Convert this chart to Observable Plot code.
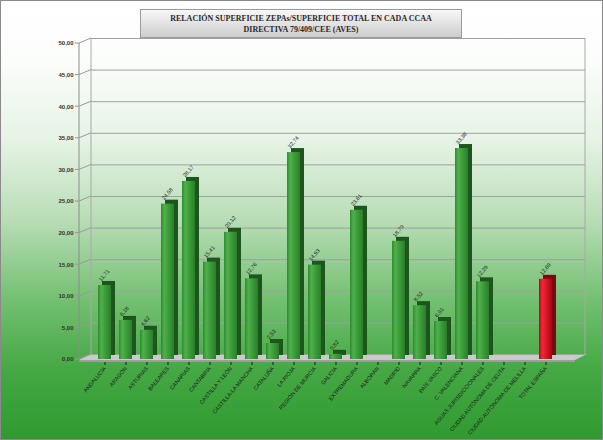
<!DOCTYPE html>
<html>
<head>
<meta charset="utf-8">
<script src="https://cdn.jsdelivr.net/npm/d3@7"></script>
<script src="https://cdn.jsdelivr.net/npm/@observablehq/plot@0.6"></script>
<style>
  html, body { margin: 0; padding: 0; }
  #chart {
    position: relative; width: 603px; height: 440px; overflow: hidden;
    background: linear-gradient(to bottom, #ffffff 0%, #fbfdfb 14%, #e6f3e5 32%, #b8ddb6 50%, #74c072 68%, #45a844 84%, #2f9a2f 100%);
    box-shadow: inset 0 0 0 1px #8a8a8a;
  }
  #title {
    position: absolute; left: 140px; top: 9px; width: 322px; height: 29px; box-sizing: border-box;
    border: 1px solid #9a9a9a; background: linear-gradient(to bottom, #f8f8f8, #cdcdcd);
    font: bold 8px "Liberation Serif", "DejaVu Serif", serif; color: #2a2a2a; text-align: center;
    line-height: 11px; padding-top: 3px; z-index: 2;
  }
  #chart svg { position: absolute; left: 0; top: 0; }
</style>
</head>
<body>
<div id="chart">
  <div id="title">RELACIÓN SUPERFICIE ZEPAs/SUPERFICIE TOTAL EN CADA CCAA<br>DIRECTIVA 79/409/CEE (AVES)</div>
</div>
<script>
// Regions (x categories)
const regions = [
  "ANDALUCÍA", "ARAGÓN", "ASTURIAS", "BALEARES", "CANARIAS", "CANTABRIA",
  "CASTILLA Y LEÓN", "CASTILLA-LA MANCHA", "CATALUÑA", "LA RIOJA", "REGIÓN DE MURCIA",
  "GALICIA", "EXTREMADURA", "ALBORÁN", "MADRID", "NAVARRA", "PAÍS VASCO",
  "C. VALENCIANA", "AGUAS JURISDICCIONALES", "CIUDAD AUTÓNOMA DE CEUTA",
  "CIUDAD AUTÓNOMA DE MELILLA", "TOTAL ESPAÑA"
];
// ZEPA surface as % of total surface
const zepaPct = [
  11.71, 6.18, 4.62, 24.58, 28.17, 15.41,
  20.12, 12.76, 2.53, 32.74, 14.93,
  0.82, 23.61, 0.00, 18.70, 8.52, 6.01,
  33.38, 12.29, 0.00,
  0.00, 12.69
];
// Y axis ticks
const yTicks = [0, 5, 10, 15, 20, 25, 30, 35, 40, 45, 50];

const totalName = regions[regions.length - 1];
const data = regions.map((name, i) => ({name, value: zepaPct[i]}));
const fmt = v => d3.format(".2f")(v).replace(".", ",");
const depth = 4;

const GREEN = "#3a9a38", GREEN_SIDE = "#1c561c";
const RED = "#d01424", RED_SIDE = "#7a0a12";

const plot = Plot.plot({
  width: 603, height: 440,
  marginLeft: 85, marginRight: 24, marginTop: 43, marginBottom: 81,
  style: {background: "transparent", fontFamily: "'Liberation Sans', Arial, sans-serif"},
  x: {type: "band", domain: regions, range: [85, 565], paddingInner: 0.4, paddingOuter: 0.2, label: null},
  y: {domain: [0, 50], label: null},
  marks: [
    Plot.ruleY(yTicks, {dx: 6, dy: -5, stroke: "#a0a0a0", strokeWidth: 1}),
    Plot.axisY(yTicks, {tickSize: 0, tickPadding: 12, tickFormat: fmt, fontSize: 6, fontWeight: "bold", color: "#333"}),
    Plot.axisX({tickRotate: -50, fontSize: 5.5, tickSize: 3, tickPadding: 2, dy: 3, color: "#1a1a1a"}),
    // bar depth (side + top)
    Plot.barY(data.filter(d => d.name !== totalName), {x: "name", y: "value", fill: GREEN_SIDE, dx: depth, dy: -depth}),
    Plot.barY(data.filter(d => d.name === totalName), {x: "name", y: "value", fill: RED_SIDE, dx: depth, dy: -depth}),
    // bar front faces
    Plot.barY(data.filter(d => d.name !== totalName), {x: "name", y: "value", fill: GREEN}),
    Plot.barY(data.filter(d => d.name === totalName), {x: "name", y: "value", fill: RED}),
    // value labels
    Plot.text(data.filter(d => d.value > 0), {
      x: "name", y: "value", text: d => fmt(d.value), rotate: -50, textAnchor: "start",
      dx: -5, dy: -5, fontSize: 5.5, fill: "#222"
    })
  ]
});

document.getElementById("chart").appendChild(plot);

// Gradients for the bar fronts and 3D floor / walls drawn from the y scale
const svg = d3.select(plot);
const ys = plot.scale("y");
const y0 = ys.apply(0), yTop = ys.apply(50);

const defs = svg.insert("defs", ":first-child");
function hgrad(id, stops) {
  const g = defs.append("linearGradient").attr("id", id).attr("x1", 0).attr("x2", 1).attr("y1", 0).attr("y2", 0);
  stops.forEach(([o, c]) => g.append("stop").attr("offset", o).attr("stop-color", c));
}
hgrad("gGreen", [[0, "#2f8a2e"], [0.25, "#4fb04c"], [0.6, "#3a9a38"], [1, "#2a7f2a"]]);
hgrad("gRed", [[0, "#b00a18"], [0.25, "#ee2a36"], [0.6, "#d81426"], [1, "#a00814"]]);
svg.selectAll(`g[fill="${GREEN}"]`).attr("fill", "url(#gGreen)");
svg.selectAll(`g[fill="${RED}"]`).attr("fill", "url(#gRed)");

const deco = svg.insert("g", "defs + *");
// floor
deco.append("polygon")
  .attr("points", [[79, y0 + 1], [575, y0 + 1], [587, y0 - 5], [91, y0 - 5]].join(" "))
  .attr("fill", "#c9cbc9");
deco.append("rect").attr("x", 79).attr("y", y0 + 1).attr("width", 496).attr("height", 2).attr("fill", "#9c9e9c");
// walls
deco.append("line").attr("x1", 79).attr("x2", 79).attr("y1", yTop).attr("y2", y0 + 2).attr("stroke", "#8c8c8c");
deco.append("line").attr("x1", 91).attr("x2", 91).attr("y1", yTop - 5).attr("y2", y0 - 5).attr("stroke", "#a8a8a8");
deco.append("line").attr("x1", 585).attr("x2", 585).attr("y1", yTop - 5).attr("y2", y0 - 5).attr("stroke", "#a8a8a8");
// tick connectors from the front axis to the back wall
yTicks.forEach(t => {
  const y = ys.apply(t);
  deco.append("polyline").attr("points", [[75, y], [79, y], [91, y - 5]].join(" "))
    .attr("fill", "none").attr("stroke", "#999");
});
</script>
</body>
</html>
